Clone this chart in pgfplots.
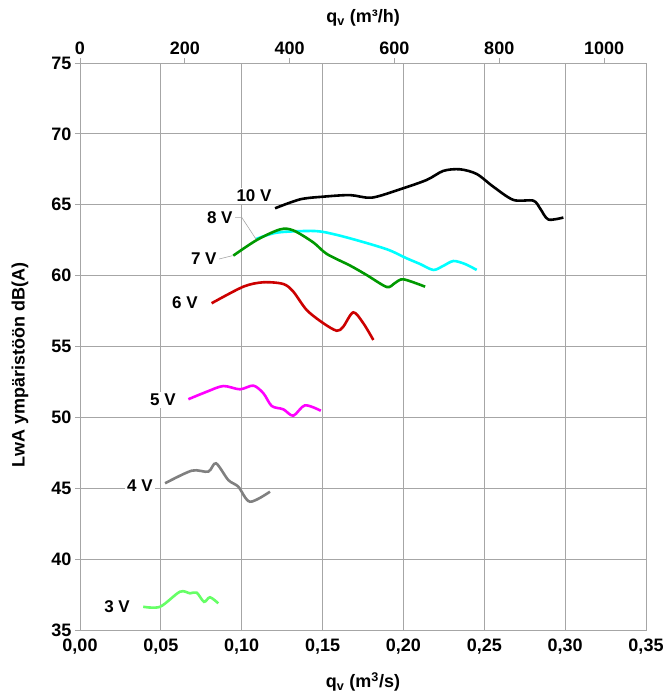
\documentclass[border=0pt]{standalone}
\usepackage{fontspec}
\setmainfont{Liberation Sans}
\usepackage{pgfplots}
\pgfplotsset{compat=1.18}
\definecolor{gridc}{HTML}{A6A6A6}
\definecolor{c10}{HTML}{000000}
\definecolor{c8}{HTML}{00FFFF}
\definecolor{c7}{HTML}{009900}
\definecolor{c6}{HTML}{CC0000}
\definecolor{c5}{HTML}{FF00FF}
\definecolor{c4}{HTML}{808080}
\definecolor{c3}{HTML}{66FF66}
\begin{document}
\begin{tikzpicture}[x=1pt,y=1pt]
\useasboundingbox (-80,-63) rectangle (590,630);
\begin{axis}[at={(0,0)}, anchor=south west, scale only axis,
  width=566pt, height=567pt,
  xmin=0, xmax=0.35, ymin=35, ymax=75,
  xtick={0,0.05,0.1,0.15,0.2,0.25,0.3,0.35},
  ytick={35,40,45,50,55,60,65,70,75},
  grid=major, grid style={gridc, line width=0.8pt},
  axis line style={gridc, line width=0.8pt},
  xtick style={draw=none}, ytick style={gridc, line width=0.8pt},
  tick align=outside, major tick length=5pt, ytick pos=left, xtick pos=bottom,
  /pgf/number format/assume math mode=true,
  ticklabel style={font=\fontsize{18}{18}\selectfont\bfseries},
  x tick label style={/pgf/number format/.cd, use comma, fixed, fixed zerofill, precision=2},
  xlabel={q\textsubscript{v} (m\textsuperscript{3}/s)},
  ylabel={LwA ympäristöön dB(A)},
  label style={font=\fontsize{18}{18}\selectfont\bfseries},
  xlabel style={at={(axis description cs:0.5,-0.092)}, anchor=center},
  ylabel style={at={(axis description cs:-0.106,0.467)}, anchor=center},
  every axis plot/.append style={line width=2.6pt, smooth, tension=0.5, no markers},
  clip=false,
]
% 10 V
\addplot[c10] coordinates {
(0.1206,64.75)(0.1361,65.38)(0.1505,65.57)(0.1670,65.68)(0.1804,65.50)
(0.1979,66.09)(0.2144,66.75)(0.2247,67.39)(0.2350,67.50)(0.2453,67.17)
(0.2556,66.27)(0.2680,65.34)(0.2803,65.29)(0.2845,64.74)(0.2896,63.96)(0.2989,64.10)};
% 8 V
\addplot[c8] coordinates {
(0.1088,62.58)(0.1216,63.03)(0.1402,63.15)(0.1505,63.08)(0.1670,62.63)
(0.1897,61.86)(0.2020,61.22)(0.2103,60.82)(0.2185,60.40)(0.2245,60.68)
(0.2309,61.03)(0.2381,60.82)(0.2453,60.40)};
% 7 V
\addplot[c7] coordinates {
(0.0948,61.41)(0.1093,62.51)(0.1237,63.26)(0.1319,63.19)(0.1443,62.34)
(0.1526,61.53)(0.1670,60.71)(0.1773,60.04)(0.1897,59.20)(0.1948,59.48)
(0.2000,59.74)(0.2134,59.22)};
% 6 V
\addplot[c6] coordinates {
(0.0814,58.05)(0.1010,59.22)(0.1134,59.53)(0.1257,59.41)(0.1319,58.87)
(0.1402,57.57)(0.1505,56.64)(0.1588,56.11)(0.1628,56.40)(0.1690,57.41)
(0.1752,56.64)(0.1814,55.46)};
% 5 V
\addplot[c5] coordinates {
(0.0670,51.28)(0.0784,51.81)(0.0886,52.21)(0.0989,51.98)(0.1072,52.24)
(0.1134,51.70)(0.1186,50.80)(0.1257,50.57)(0.1319,50.12)(0.1391,50.85)(0.1489,50.47)};
% 4 V
\addplot[c4] coordinates {
(0.0526,45.35)(0.0691,46.24)(0.0793,46.17)(0.0841,46.76)(0.0917,45.58)
(0.0979,45.11)(0.1051,44.05)(0.1175,44.76)};
% 3 V
\addplot[c3] coordinates {
(0.0391,36.64)(0.0495,36.64)(0.0618,37.70)(0.0680,37.59)(0.0722,37.63)
(0.0767,36.99)(0.0804,37.31)(0.0855,36.88)};
% leader lines
\draw[gray!70, line width=0.6pt] (axis cs:0.0959,64.11) -- (axis cs:0.1000,64.11) -- (axis cs:0.1088,62.58);
\draw[gray!70, line width=0.6pt] (axis cs:0.0860,61.17) -- (axis cs:0.0944,61.41);
% labels
\tikzset{vlab/.style={fill=white, inner sep=2pt, font=\fontsize{17}{17}\selectfont\bfseries}}
\node[vlab] at (axis cs:0.1076,65.62) {10 V};
\node[vlab, anchor=east] at (axis cs:0.0957,64.11) {8 V};
\node[vlab, anchor=east] at (axis cs:0.0858,61.17) {7 V};
\node[vlab] at (axis cs:0.0649,58.07) {6 V};
\node[vlab] at (axis cs:0.0513,51.23) {5 V};
\node[vlab] at (axis cs:0.0371,45.16) {4 V};
\node[vlab] at (axis cs:0.0229,36.62) {3 V};
\end{axis}
\begin{axis}[at={(0,0)}, anchor=south west, scale only axis,
  width=566pt, height=567pt,
  xmin=0, xmax=1080, ymin=0, ymax=1,
  axis x line*=top, axis y line=none, ytick=\empty,
  xtick={0,200,400,600,800,1000},
  axis line style={gridc, line width=0.8pt},
  xtick style={gridc, line width=0.8pt},
  tick align=outside, major tick length=5pt,
  /pgf/number format/assume math mode=true,
  /pgf/number format/set thousands separator={},
  ticklabel style={font=\fontsize{18}{18}\selectfont\bfseries},
  xlabel={q\textsubscript{v} (m³/h)},
  label style={font=\fontsize{18}{18}\selectfont\bfseries},
  xlabel style={at={(axis description cs:0.5,1.079)}, anchor=center},
]
\end{axis}
\end{tikzpicture}
\end{document}
